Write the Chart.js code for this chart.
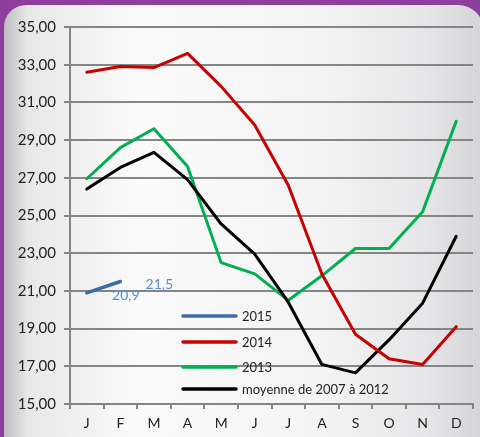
<!DOCTYPE html>
<html>
<head>
<meta charset="utf-8">
<script src="https://cdn.jsdelivr.net/npm/chart.js@4/dist/chart.umd.min.js"></script>
<style>
  html, body { margin: 0; padding: 0; }
  body { width: 480px; height: 437px; background: #8e3e9c; overflow: hidden; }
  #frame {
    position: absolute; left: 4px; top: 5px; width: 480px; height: 450px;
    border-radius: 22px 26px 0 0;
    background: linear-gradient(to right, #bdbdc0 0%, #e8e8e8 5%, #fafafa 28%, #f4f4f5 65%, #e6e6e8 88%, #d4d4d6 100%);
  }
  #prix { position: absolute; left: 0; top: 0; }
</style>
</head>
<body>
<div id="frame"></div>
<canvas id="prix" width="480" height="437"></canvas>
<script>
// mois
const mois = ['J','F','M','A','M','J','J','A','S','O','N','D'];

// valeurs
const serie2015 = [20.9, 21.5];
const serie2014 = [32.6, 32.9, 32.85, 33.6, 31.85, 29.8, 26.6, 21.9, 18.7, 17.4, 17.1, 19.1];
const serie2013 = [26.95, 28.6, 29.6, 27.6, 22.5, 21.9, 20.5, 21.8, 23.25, 23.25, 25.2, 30.0];
const moyenne = [26.4, 27.55, 28.35, 26.9, 24.55, 22.95, 20.4, 17.1, 16.65, 18.4, 20.35, 23.9];

const yMin = 15, yMax = 35, yStep = 2;

const virgule = (v, d) => v.toFixed(d).replace('.', ',');

// etiquettes des valeurs 2015
const etiquettes = {
    id: 'etiquettes',
    afterDatasetsDraw(chart) {
        const ctx = chart.ctx;
        const meta = chart.getDatasetMeta(0);
        ctx.save();
        ctx.font = '14px Lato';
        ctx.fillStyle = '#5a8dcf';
        ctx.textAlign = 'center';
        ctx.textBaseline = 'middle';
        meta.data.forEach((pt, i) => {
            ctx.fillText(virgule(chart.data.datasets[0].data[i], 1), pt.x + 39, pt.y + 3);
        });
        ctx.restore();
    }
};

// legende dans la zone du graphique
const legende = {
    id: 'legende',
    afterDraw(chart) {
        const ctx = chart.ctx;
        const x0 = 183, x1 = 236, ys = [316, 342, 367, 389];
        ctx.save();
        ctx.font = '13px Lato';
        ctx.textBaseline = 'middle';
        chart.data.datasets.forEach((ds, i) => {
            ctx.strokeStyle = ds.borderColor;
            ctx.lineWidth = 3.5;
            ctx.lineCap = 'round';
            ctx.beginPath();
            ctx.moveTo(x0, ys[i]);
            ctx.lineTo(x1, ys[i]);
            ctx.stroke();
            ctx.fillStyle = '#222';
            ctx.fillText(ds.label, 242, ys[i] + 1);
        });
        ctx.restore();
    }
};

const ctx = document.getElementById('prix').getContext('2d');
new Chart(ctx, {
    type: 'line',
    data: {
        labels: mois,
        datasets: [
            { label: '2015', data: serie2015, borderColor: '#3e6da6', borderWidth: 3.5, order: 1 },
            { label: '2014', data: serie2014, borderColor: '#c80000', borderWidth: 3, order: 2 },
            { label: '2013', data: serie2013, borderColor: '#00b050', borderWidth: 3, order: 4 },
            { label: 'moyenne de 2007 à 2012', data: moyenne, borderColor: '#000000', borderWidth: 3, order: 3 }
        ]
    },
    options: {
        responsive: false,
        animation: false,
        devicePixelRatio: 1,
        layout: { padding: { left: 0, top: 27, right: 7, bottom: 0 } },
        elements: {
            point: { radius: 0 },
            line: { tension: 0, borderCapStyle: 'round', borderJoinStyle: 'round' }
        },
        plugins: {
            legend: { display: false },
            tooltip: { enabled: false }
        },
        scales: {
            x: {
                offset: true,
                grid: { offset: true, drawOnChartArea: false, drawTicks: true, tickLength: 5, color: '#858585', lineWidth: 2 },
                border: { color: '#858585', width: 2 },
                ticks: { color: '#222', font: { family: 'Lato', size: 14 }, padding: 6, maxRotation: 0, autoSkip: false },
                afterFit(scale) { scale.height = 33; }
            },
            y: {
                min: yMin,
                max: yMax,
                ticks: {
                    stepSize: yStep,
                    autoSkip: false,
                    color: '#222',
                    font: { family: 'Lato', size: 15 },
                    padding: 8,
                    callback: (v) => virgule(v, 2)
                },
                grid: { color: '#858585', lineWidth: 2, tickLength: 6 },
                border: { color: '#858585', width: 2 },
                afterFit(scale) { scale.width = 70; }
            }
        }
    },
    plugins: [etiquettes, legende]
});
</script>
</body>
</html>
